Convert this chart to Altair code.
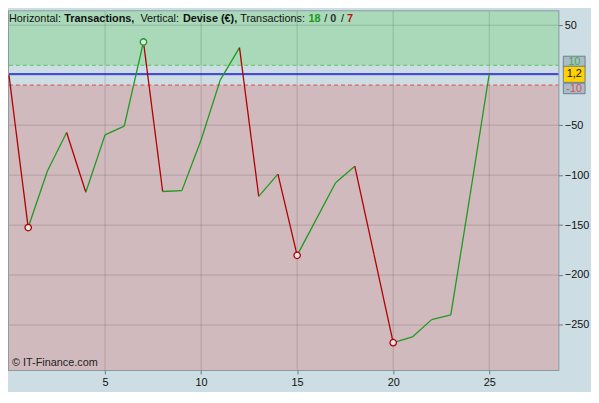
import altair as alt
import pandas as pd

# ---- data ----
trade_no = list(range(26))
equity = [0, -152.5, -95.8, -57.3, -117.1, -59.7, -50.9, 33.3, -116.4, -115.5,
          -64.9, -4.7, 27.6, -121.2, -99.0, -180.3, -144.0, -107.6, -91.1, -179.4,
          -267.7, -262.0, -244.6, -239.9, -120.2, 1.2]
marker_trades = [1, 7, 15, 20]
marker_kind = ["loss", "gain", "loss", "loss"]
upper_band = 10
lower_band = -10
current_value = 1.2
x_ticks = [5, 10, 15, 20, 25]
y_ticks = [50, -50, -100, -150, -200, -250]
grid_y = [50, 0, -50, -100, -150, -200, -250]
header_text = ["Horizontal:", "Transactions,", "Vertical:", "Devise (€),",
               "Transactions:", "18", "/", "0", "/", "7"]
header_bold = [False, True, False, True, False, True, False, True, False, True]
header_color = ["#111111", "#111111", "#111111", "#111111", "#111111",
                "#1a9a1a", "#111111", "#333333", "#111111", "#c01010"]

# ---- layout ----
W, H = 556, 363
header_x = [0, 56, 133, 176, 234, 303, 319, 325, 336, 342]
xdom = [0, 28.6]
ydom = [-295, 64]
xs = alt.Scale(domain=xdom, nice=False, zero=False)
ys = alt.Scale(domain=ydom, nice=False, zero=False)

xaxis = alt.Axis(values=x_ticks, grid=False, domain=False, tickColor="#6c7a80",
                 tickSize=4, labelColor="#111111", labelFontSize=11,
                 labelFont="Liberation Sans", title=None, labelPadding=3)
yaxis = alt.Axis(orient="right", values=y_ticks, grid=False, domain=False,
                 tickColor="#6c7a80", tickSize=4, labelColor="#111111",
                 labelFontSize=11, labelFont="Liberation Sans", title=None,
                 labelPadding=2)

GREEN = "#1f9a1f"
RED = "#b00000"

zones = pd.DataFrame({
    "zone": ["top", "mid", "low"],
    "y0": [upper_band, lower_band, ydom[0]],
    "y1": [ydom[1], upper_band, lower_band],
})
zone_rect = alt.Chart(zones).mark_rect().encode(
    x=alt.value(0), x2=alt.value(W),
    y=alt.Y("y0:Q", scale=ys, axis=yaxis), y2="y1:Q",
    color=alt.Color("zone:N", legend=None,
                    scale=alt.Scale(domain=["top", "mid", "low"],
                                    range=["#a9d9b9", "#cddde4", "#d1babe"])),
)

vgrid = alt.Chart(pd.DataFrame({"x": x_ticks})).mark_rule(
    color="#404040", opacity=0.22, strokeWidth=1).encode(
    x=alt.X("x:Q", scale=xs, axis=xaxis), y=alt.value(0), y2=alt.value(H))
hgrid = alt.Chart(pd.DataFrame({"y": grid_y})).mark_rule(
    color="#404040", opacity=0.22, strokeWidth=1).encode(
    y=alt.Y("y:Q", scale=ys, axis=yaxis), x=alt.value(0), x2=alt.value(W))

bands = pd.DataFrame({"y": [upper_band, lower_band], "kind": ["gain", "loss"]})
band_lines = alt.Chart(bands).mark_rule(strokeDash=[4, 3], strokeWidth=1.2).encode(
    y=alt.Y("y:Q", scale=ys, axis=yaxis), x=alt.value(0), x2=alt.value(W),
    color=alt.Color("kind:N", legend=None,
                    scale=alt.Scale(domain=["gain", "loss"], range=["#5cc35c", "#e06060"])),
)
cur_line = alt.Chart(pd.DataFrame({"y": [current_value]})).mark_rule(
    color="#1a1ae6", strokeWidth=1.5).encode(
    y=alt.Y("y:Q", scale=ys, axis=yaxis), x=alt.value(0), x2=alt.value(W))

seg = pd.DataFrame({
    "x": trade_no[:-1], "x2": trade_no[1:],
    "y": equity[:-1], "y2": equity[1:],
})
seg["dir"] = ["gain" if b >= a else "loss" for a, b in zip(seg["y"], seg["y2"])]
segments = alt.Chart(seg).mark_rule(strokeWidth=1.3).encode(
    x=alt.X("x:Q", scale=xs, axis=xaxis), x2="x2:Q",
    y=alt.Y("y:Q", scale=ys, axis=yaxis), y2="y2:Q",
    color=alt.Color("dir:N", legend=None,
                    scale=alt.Scale(domain=["gain", "loss"], range=[GREEN, RED])),
)

mk = pd.DataFrame({"x": marker_trades,
                   "y": [equity[i] for i in marker_trades],
                   "kind": marker_kind})
markers = alt.Chart(mk).mark_point(shape="circle", size=42, filled=False,
                                   fill="#dde6ea", fillOpacity=1, strokeWidth=1.3,
                                   opacity=1).encode(
    x=alt.X("x:Q", scale=xs, axis=xaxis), y=alt.Y("y:Q", scale=ys, axis=yaxis),
    stroke=alt.Stroke("kind:N", legend=None,
                      scale=alt.Scale(domain=["gain", "loss"], range=[GREEN, RED])),
)

# right-side value boxes (drawn in order: 10, -10, then 1,2 on top)
box = pd.DataFrame({
    "label": ["10", "-10", "1,2"],
    "v": [upper_band + 3.5, lower_band - 3.5, current_value],
    "lo": [upper_band - 2, lower_band - 8.5, current_value - 8.4],
    "hi": [upper_band + 9, lower_band + 2, current_value + 7.8],
    "fill": ["#a9bcc7", "#a9bcc7", "#ffd200"],
    "txt": ["#3cb04c", "#e05050", "#111111"],
})
box_rect = alt.Chart(box).mark_rect(stroke="#6f7f88", strokeWidth=1).encode(
    x=alt.value(W + 5), x2=alt.value(W + 27),
    y=alt.Y("lo:Q", scale=ys, axis=yaxis), y2="hi:Q",
    fill=alt.Fill("fill:N", scale=None),
)
box_text = alt.Chart(box).mark_text(fontSize=11, font="Liberation Sans",
                                     align="center", baseline="middle").encode(
    x=alt.value(W + 16), y=alt.Y("v:Q", scale=ys, axis=yaxis),
    text="label:N", color=alt.Color("txt:N", scale=None),
)
box_layers = []
for i in range(3):
    box_layers.append(box_rect.transform_filter(alt.datum.label == box["label"][i]))
    box_layers.append(box_text.transform_filter(alt.datum.label == box["label"][i]))

hdr = pd.DataFrame({"t": header_text, "b": header_bold, "c": header_color, "px": header_x})
hdr_normal = alt.Chart(hdr).transform_filter("!datum.b").mark_text(
    fontSize=11, font="Liberation Sans", align="left", baseline="middle").encode(
    x=alt.X("px:Q", scale=None), y=alt.value(8), text="t:N",
    color=alt.Color("c:N", scale=None))
hdr_bold = alt.Chart(hdr).transform_filter("datum.b").mark_text(
    fontSize=11, font="Liberation Sans", fontWeight="bold", align="left",
    baseline="middle").encode(
    x=alt.X("px:Q", scale=None), y=alt.value(8), text="t:N",
    color=alt.Color("c:N", scale=None))

copyright_txt = alt.Chart(pd.DataFrame({"t": ["© IT-Finance.com"]})).mark_text(
    fontSize=11, font="Liberation Sans", align="left", baseline="middle",
    color="#222222").encode(x=alt.value(3), y=alt.value(H - 7), text="t:N")

chart = alt.layer(
    zone_rect, vgrid, hgrid, band_lines, cur_line, segments, markers,
    *box_layers, hdr_normal, hdr_bold, copyright_txt,
).resolve_scale(color="independent", stroke="independent", fill="independent").properties(
    width=W, height=H, background="#cddde4",
    padding={"left": 0, "top": 0, "right": 2, "bottom": 2},
).configure_view(stroke="#8a9aa3", strokeWidth=2)

chart.save("out.html", embed_options={"renderer": "svg", "actions": False})
